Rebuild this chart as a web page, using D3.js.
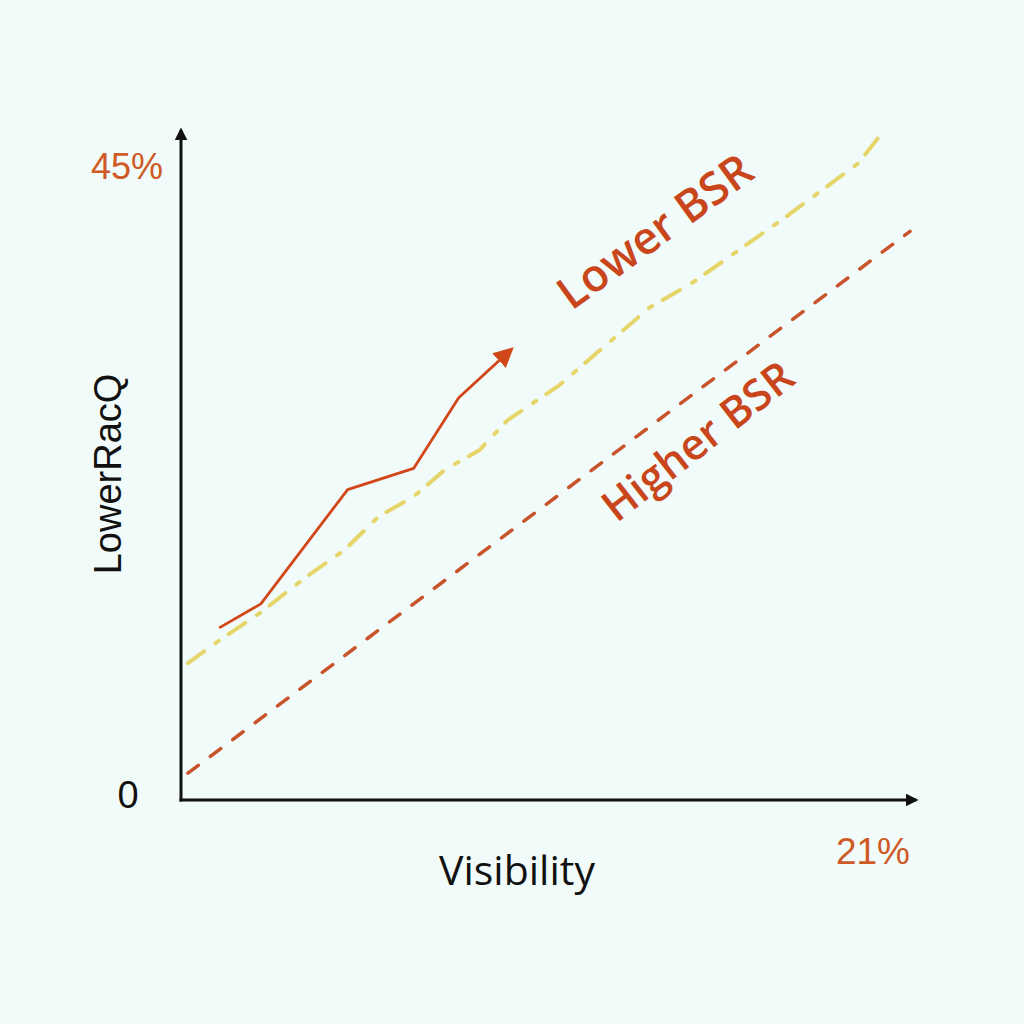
<!DOCTYPE html>
<html><head><meta charset="utf-8">
<script src="https://cdn.jsdelivr.net/npm/d3@7"></script>
<style>html,body{margin:0;padding:0;background:#f1fcfa;}</style>
</head><body>
<script>
// Data (x in % visibility, y in %)
const xTickLabels = ["0", "21%"];
const yTickLabels = ["0", "45%"];
const trendX = [1.1, 2.3, 4.8, 6.7, 8.0, 9.5];
const trendY = [12.2, 13.9, 22.0, 23.5, 28.5, 31.9];
const lowerX = [0.2, 1.1, 2.3, 3.6, 4.7, 5.7, 6.7, 7.6, 8.6, 9.4, 10.9, 13.5, 14.7, 15.8, 17.3, 19.5, 20.3];
const lowerY = [9.7, 11.3, 13.3, 15.8, 17.7, 20.1, 21.5, 23.4, 24.8, 26.9, 29.4, 34.9, 36.6, 38.5, 41.1, 45.1, 47.6];
const higherX = [0.2, 21.0];
const higherY = [1.9, 40.3];
const labels = ["Lower BSR", "Higher BSR"];

const W = 1024, H = 1024;
const svg = d3.select("body").append("svg").attr("width", W).attr("height", H);
svg.append("rect").attr("width", W).attr("height", H).attr("fill", "#f1fcfa");

const x = d3.scaleLinear().domain([0, 21]).range([181, 910]);
const y = d3.scaleLinear().domain([0, 45]).range([800, 165]);

const defs = svg.append("defs");
function marker(id, color, size) {
  defs.append("marker").attr("id", id).attr("viewBox", "0 0 10 10")
    .attr("refX", 8).attr("refY", 5).attr("markerWidth", size).attr("markerHeight", size)
    .attr("markerUnits", "userSpaceOnUse").attr("orient", "auto")
    .append("path").attr("d", "M0,0 L10,5 L0,10 z").attr("fill", color);
}
marker("axArrow", "#111", 13);
marker("redArrow", "#d2471a", 20);

// axes
svg.append("line").attr("x1", x(0)).attr("y1", y(0) + 1.5).attr("x2", x(0)).attr("y2", 130)
  .attr("stroke", "#111").attr("stroke-width", 3).attr("marker-end", "url(#axArrow)");
svg.append("line").attr("x1", x(0) - 1.5).attr("y1", y(0)).attr("x2", 916).attr("y2", y(0))
  .attr("stroke", "#111").attr("stroke-width", 3).attr("marker-end", "url(#axArrow)");

const line = d3.line().x(d => x(d[0])).y(d => y(d[1]));

// Higher BSR dashed line
svg.append("path").datum(d3.zip(higherX, higherY)).attr("d", line)
  .attr("fill", "none").attr("stroke", "#c9532b").attr("stroke-width", 3.5)
  .attr("stroke-dasharray", "13,15").attr("stroke-linecap", "round");

// Lower BSR dashed line
svg.append("path").datum(d3.zip(lowerX, lowerY)).attr("d", line)
  .attr("fill", "none").attr("stroke", "#e6d56a").attr("stroke-width", 4)
  .attr("stroke-dasharray", "20,14,4,12").attr("stroke-linecap", "round");

// trend solid line
svg.append("path").datum(d3.zip(trendX, trendY)).attr("d", line)
  .attr("fill", "none").attr("stroke", "#d2471a").attr("stroke-width", 2.8)
  .attr("stroke-linejoin", "round").attr("marker-end", "url(#redArrow)");

// tick labels
svg.append("text").attr("x", 163).attr("y", y(45) + 14).attr("text-anchor", "end")
  .attr("font-family", "Liberation Sans, Arial, sans-serif").attr("font-size", 36)
  .attr("fill", "#cf5a26").text(yTickLabels[1]);
svg.append("text").attr("x", 128).attr("y", y(0) + 8).attr("text-anchor", "middle")
  .attr("font-family", "Liberation Sans, Arial, sans-serif").attr("font-size", 38)
  .attr("fill", "#111").text(yTickLabels[0]);
svg.append("text").attr("x", x(21)).attr("y", 864).attr("text-anchor", "end")
  .attr("font-family", "Liberation Sans, Arial, sans-serif").attr("font-size", 37)
  .attr("fill", "#cf5a26").text(xTickLabels[1]);

// axis titles
svg.append("text").attr("x", 517).attr("y", 885).attr("text-anchor", "middle")
  .attr("font-family", "Open Sans, sans-serif").attr("font-size", 41)
  .attr("fill", "#111").text("Visibility");
svg.append("text").attr("transform", "translate(121,474) rotate(-90)").attr("text-anchor", "middle")
  .attr("font-family", "Liberation Sans, Arial, sans-serif").attr("font-size", 38)
  .attr("fill", "#111").text("LowerRacQ");

// series labels
svg.append("text").attr("transform", "translate(664,244) rotate(-36)").attr("text-anchor", "middle")
  .attr("font-family", "Open Sans, sans-serif").attr("font-size", 45).attr("font-weight", 600)
  .attr("fill", "#c9461c").text(labels[0]);
svg.append("text").attr("transform", "translate(707,453) rotate(-38)").attr("text-anchor", "middle")
  .attr("font-family", "Open Sans, sans-serif").attr("font-size", 43).attr("font-weight", 600)
  .attr("fill", "#c9461c").text(labels[1]);
</script>
</body></html>
